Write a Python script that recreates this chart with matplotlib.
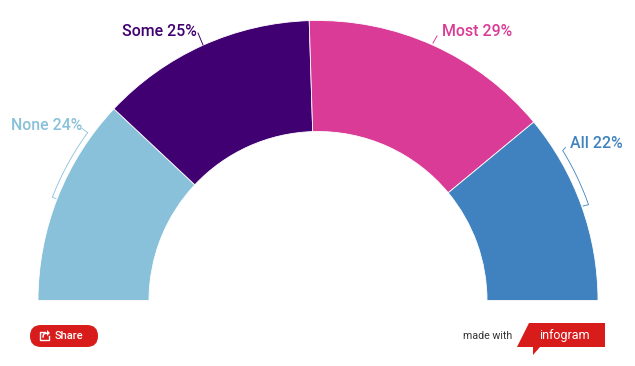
import matplotlib
matplotlib.use('Agg')
import matplotlib.pyplot as plt
from matplotlib.patches import FancyBboxPatch, Polygon
import numpy as np

categories = ['None', 'Some', 'Most', 'All']
shares = [24, 25, 29, 22]
colors = ['#8AC1DA', '#410071', '#D93B96', '#3F82BF']
red = '#D81B1B'

W, H = 635, 366
cx, cy = 318, 300.5
r_out, r_in = 280, 169


def Y(py):
    return H - py


def arc(a0, a1, r, n=30):
    # angles measured from the left end of the half ring
    a = np.radians(np.linspace(a0, a1, n))
    return cx - r * np.cos(a), Y(cy - r * np.sin(a))


plt.rcParams['font.family'] = ['Roboto', 'DejaVu Sans']

fig = plt.figure(figsize=(W / 100, H / 100), dpi=100)
ax = fig.add_axes([0, 0, 1, 1])

# half ring: a hidden slice takes the lower half of the pie
wedges, _ = ax.pie(shares + [sum(shares)], colors=colors + ['none'], center=(cx, Y(cy)),
                   radius=r_out, startangle=180, counterclock=False, frame=True,
                   wedgeprops=dict(width=r_out - r_in, edgecolor='white', linewidth=0.6))
wedges[-1].set_visible(False)
ax.set_xlim(0, W)
ax.set_ylim(0, H)
ax.axis('off')

# labels
ax.text(11, Y(125), 'None 24%', color=colors[0], fontsize=11.4, fontweight='medium', va='center')
ax.text(122, Y(31), 'Some 25%', color=colors[1], fontsize=11.4, fontweight='medium', va='center')
ax.text(442, Y(31), 'Most 29%', color=colors[2], fontsize=11.4, fontweight='medium', va='center')
ax.text(570, Y(144), 'All 22%', color=colors[3], fontsize=11.4, fontweight='medium', va='center')

# leader lines
xs, ys = arc(21.2, 36.1, 285)
ax.plot(np.r_[56, xs, 82], np.r_[Y(198.5), ys, Y(128.5)], color=colors[0], lw=0.6)
xs, ys = arc(148.5, 160.5, 287)
ax.plot(np.r_[565.5, xs, 583], np.r_[Y(147.5), ys, Y(206)], color=colors[3], lw=0.6)
ax.plot([198, 203], [Y(33), Y(45)], color=colors[1], lw=0.7)
ax.plot([433, 437], [Y(43), Y(36)], color=colors[2], lw=0.7)

# share button
ax.add_patch(FancyBboxPatch((30, Y(347)), 68, 22, boxstyle='round,pad=0,rounding_size=11',
                            fc=red, ec='none'))
ax.plot([45, 40, 40, 48.5, 48.5], [Y(332), Y(332), Y(340), Y(340), Y(336)], color='white', lw=1)
ax.plot([43, 43.5, 48], [Y(337), Y(334), Y(333)], color='white', lw=1)
ax.add_patch(Polygon([(47, Y(330)), (50, Y(333)), (47, Y(336))], fc='white', ec='none'))
ax.text(55, Y(336), 'Share', color='white', fontsize=8, fontweight='medium', va='center')

# infogram badge
ax.text(463, Y(336), 'made with', color='#333333', fontsize=7.7, va='center')
ax.add_patch(Polygon([(529, Y(323)), (605, Y(323)), (605, Y(347)), (540, Y(347)),
                      (533, Y(355)), (533, Y(347)), (517, Y(347))], fc=red, ec='none'))
ax.text(564.5, Y(335), 'infogram', color='white', fontsize=9, ha='center', va='center')

fig.savefig('out.png', dpi=100, facecolor='white')
